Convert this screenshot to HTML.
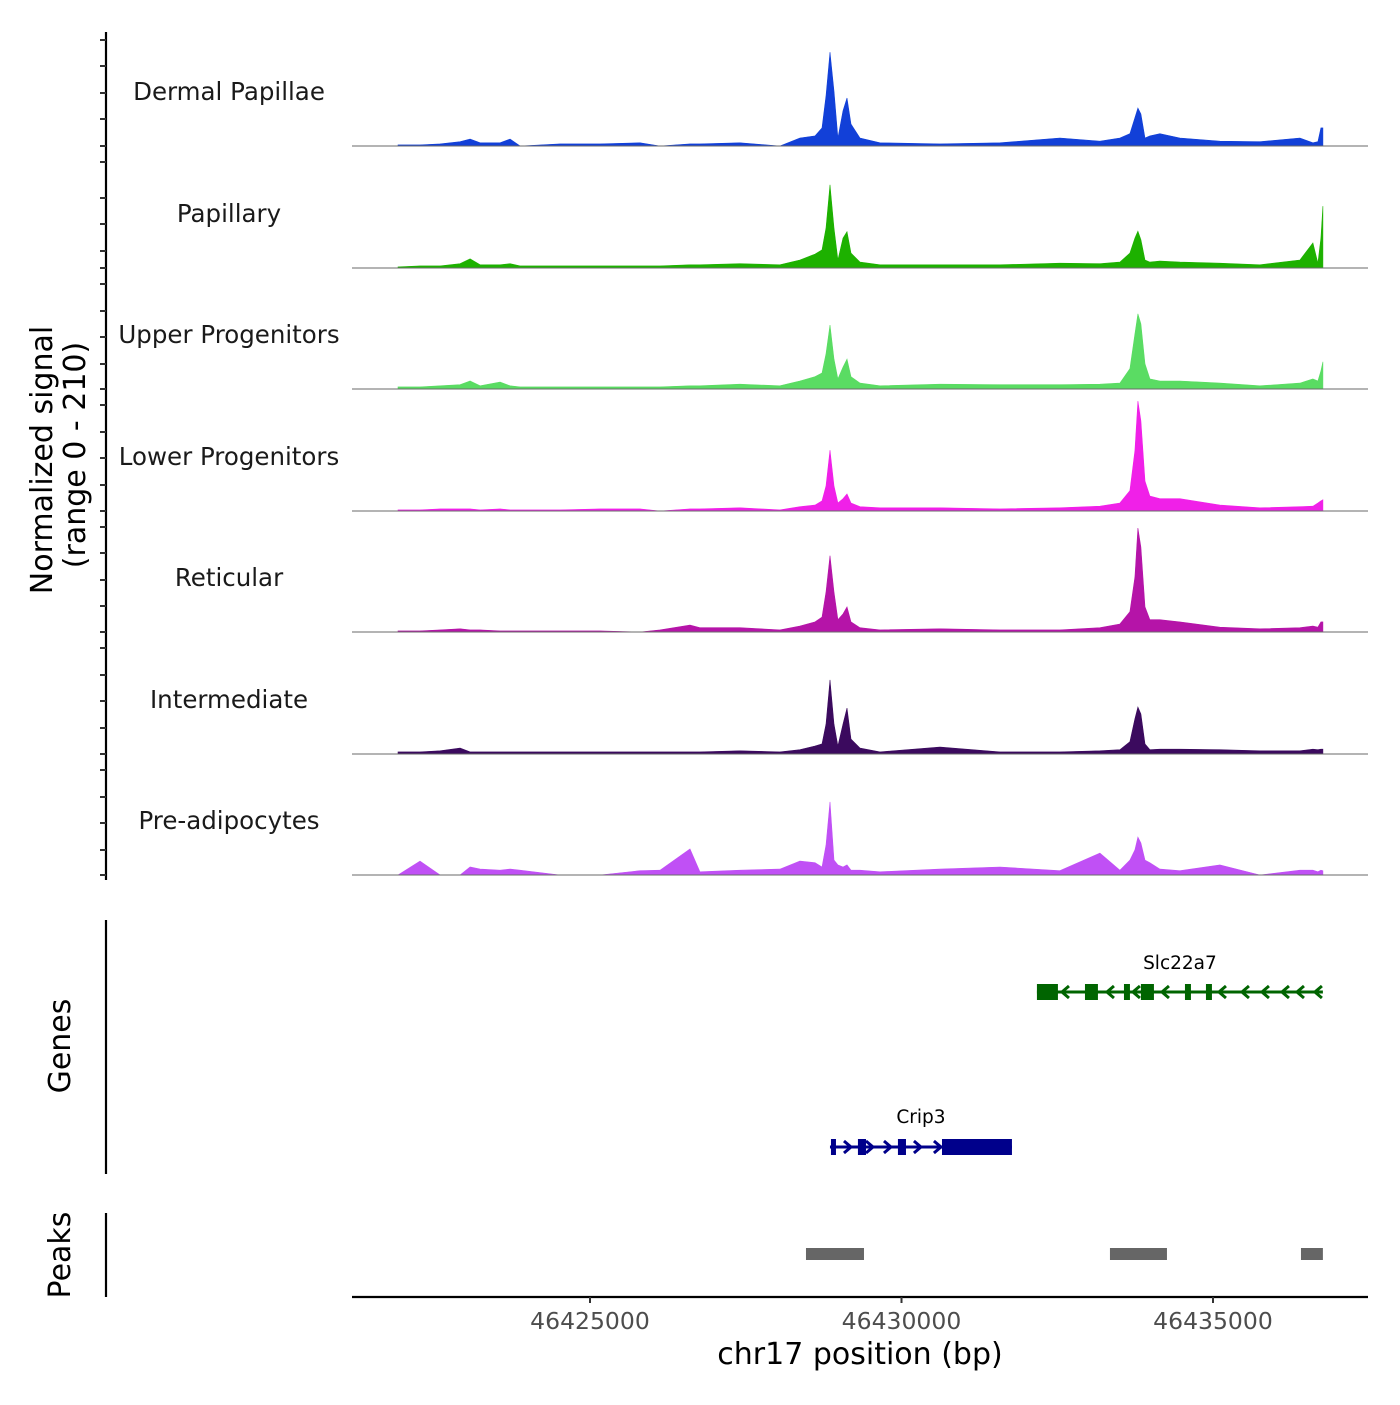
<!DOCTYPE html>
<html><head><meta charset="utf-8">
<style>
html,body{margin:0;padding:0;background:#fff;}
svg text{font-family:"DejaVu Sans","Liberation Sans",sans-serif;}
</style></head>
<body>
<svg id="chart" width="1400" height="1400" viewBox="0 0 1400 1400" xmlns="http://www.w3.org/2000/svg">
</svg>
<script>
// ---- data ----
const trackNames = ["Dermal Papillae","Papillary","Upper Progenitors","Lower Progenitors","Reticular","Intermediate","Pre-adipocytes"];
const trackColors = ["#1240d8","#1db100","#5adc63","#f020e8","#b514a8","#3b0a5e","#c050f5"];
const positions = [46421918,46422272,46422594,46422915,46423075,46423236,46423557,46423717,46423878,46424519,46425160,46425802,46426123,46426605,46426765,46427407,46428049,46428370,46428611,46428724,46428788,46428852,46428916,46428980,46429061,46429125,46429189,46429334,46429655,46430618,46431581,46432543,46433185,46433506,46433667,46433747,46433795,46433843,46433908,46433988,46434148,46434469,46435111,46435753,46436395,46436604,46436684,46436732,46436764];
const dermalPapillae = [2,2,4,8,13,6,6,13,0,4,4,6,0,4,4,6,0,15,19,34,94,176,103,15,66,90,41,15,6,4,6,15,9,15,23,53,71,60,15,19,23,15,9,8,15,6,8,34,34];
const papillary = [2,4,4,8,17,6,6,8,4,4,4,4,4,6,6,8,6,15,26,34,75,156,75,15,56,68,28,11,6,6,6,9,8,11,28,56,69,53,15,11,13,11,9,6,15,47,9,56,116];
const upperProgenitors = [4,4,6,8,15,6,13,6,4,4,4,4,4,6,6,9,6,15,23,30,66,120,56,19,41,56,23,11,6,9,8,8,9,11,38,103,141,122,47,19,15,15,11,6,11,19,15,34,51];
const lowerProgenitors = [2,2,4,4,4,2,4,2,2,2,4,4,0,4,4,6,2,8,11,19,47,114,47,15,23,32,15,8,6,6,4,6,9,15,38,113,206,169,56,28,23,23,11,6,8,9,15,19,21];
const reticular = [2,2,4,6,4,4,2,2,2,2,2,0,4,13,8,8,4,11,19,28,75,143,75,23,34,47,19,8,4,6,4,4,8,15,38,103,195,159,47,23,23,19,9,6,8,11,9,19,19];
const intermediate = [4,4,6,11,4,4,4,4,4,4,4,4,4,4,4,6,4,8,15,19,56,139,56,15,56,86,28,11,4,13,4,4,6,8,23,66,88,75,19,8,9,9,8,6,6,9,8,9,9];
const preAdipocytes = [0,26,0,0,15,11,9,11,9,0,0,8,9,49,6,9,11,26,23,15,56,137,28,19,15,19,9,9,6,11,15,8,41,9,28,47,71,60,28,23,11,8,19,0,9,9,6,9,8];
const trackValues = [dermalPapillae,papillary,upperProgenitors,lowerProgenitors,reticular,intermediate,preAdipocytes];
const xTicks = [46425000,46430000,46435000];
const slcExons = [[46432174,46432511],[46432945,46433153],[46433571,46433667],[46433843,46434052],[46434550,46434646],[46434887,46434983]];
const slcSpan = [46432174,46436764];
const slcArrows = [46432624,46433346,46433763,46434229,46435144,46435513,46435834,46436155,46436396,46436684];
const cripExons = [[46428868,46428948],[46429301,46429430],[46429943,46430072],[46430650,46431773]];
const cripSpan = [46428852,46431773];
const cripArrows = [46429141,46429494,46429783,46430264,46430585];
const peakRegions = [[46428467,46429398],[46433346,46434261],[46436412,46436764]];

// ---- scales ----
const X0=352, X1=1368, BP0=46421180, BP1=46437488;
function xs(bp){return X0+(bp-BP0)/(BP1-BP0)*(X1-X0);}
const baselines=[146,268,389,511,632,754,875];
const YMAX=210, TRACK_H=112;
function ys(v,b){return b-v/YMAX*TRACK_H;}

const svg=document.getElementById('chart');
const NS="http://www.w3.org/2000/svg";
function mk(tag,attrs,parent){const e=document.createElementNS(NS,tag);for(const k in attrs)e.setAttribute(k,attrs[k]);(parent||svg).appendChild(e);return e;}

// tracks
trackValues.forEach((vals,i)=>{
  const b=baselines[i];
  const g=mk('g',{});
  
  
  let d='M'+xs(positions[0]).toFixed(1)+','+b;
  positions.forEach((p,j)=>{d+=' L'+xs(p).toFixed(1)+','+ys(vals[j],b).toFixed(1);});
  d+=' L'+xs(positions[positions.length-1]).toFixed(1)+','+b+' Z';
  const a=mk('path',{d:d,fill:trackColors[i],stroke:trackColors[i],'stroke-width':0.6},g);
  
  
  const ln=mk('line',{x1:X0,x2:X1,y1:b,y2:b,stroke:'#6a6a6a','stroke-width':1},g);
  
  
  const t=mk('text',{x:229,y:b-46,'font-size':24.5,'text-anchor':'middle',fill:'#1a1a1a'},g);
  t.textContent=trackNames[i];
  
  
});

// y axis
const ya=mk('line',{x1:106,x2:106,y1:32,y2:880,stroke:'#000','stroke-width':2.2});


const tickYs=[40,66,93,119,146,162,198,224,251,268,284,311,337,364,389,405,432,458,485,511,527,553,580,606,632,648,675,701,728,754,770,797,823,850,875];
tickYs.forEach(y=>{const t=mk('line',{x1:100,x2:106,y1:y,y2:y,stroke:'#333','stroke-width':2});
  
  });
const yt=mk('text',{x:52,y:460,'font-size':30,'text-anchor':'middle',transform:'rotate(-90 52 460)',fill:'#000'});
yt.textContent='Normalized signal';


const yt2=mk('text',{x:85,y:455,'font-size':30,'text-anchor':'middle',transform:'rotate(-90 85 455)',fill:'#000'});
yt2.textContent='(range 0 - 210)';



// genes panel
const ga=mk('line',{x1:106,x2:106,y1:920,y2:1174,stroke:'#000','stroke-width':2.2});


const gt=mk('text',{x:70,y:1046,'font-size':30,'text-anchor':'middle',transform:'rotate(-90 70 1046)'});
gt.textContent='Genes';



function drawGene(name,span,exons,arrows,y,color,dir,labelY){
  const g=mk('g',{});
  
  
  mk('line',{x1:xs(span[0]),x2:xs(span[1]),y1:y,y2:y,stroke:color,'stroke-width':3},g);
  exons.forEach(e=>{const r=mk('rect',{x:xs(e[0]),y:y-8,width:Math.max(5,xs(e[1])-xs(e[0])),height:16,fill:color},g);
    
    });
  arrows.forEach(p=>{const x=xs(p);const d=dir<0?`M${x+4},${y-6} L${x-3},${y} L${x+4},${y+6}`:`M${x-4},${y-6} L${x+3},${y} L${x-4},${y+6}`;
    const a=mk('path',{d:d,fill:'none',stroke:color,'stroke-width':3},g);
    
    });
  const t=mk('text',{x:(xs(span[0])+xs(span[1]))/2,y:labelY,'font-size':18.5,'text-anchor':'middle',fill:'#000'},g);
  t.textContent=name;
  
  
}
drawGene('Slc22a7',slcSpan,slcExons,slcArrows,992,'#006400',-1,969);
drawGene('Crip3',cripSpan,cripExons,cripArrows,1147,'#00008b',1,1123);

// peaks panel
const pa=mk('line',{x1:106,x2:106,y1:1213,y2:1297,stroke:'#000','stroke-width':2.2});


const pt=mk('text',{x:70,y:1255,'font-size':30,'text-anchor':'middle',transform:'rotate(-90 70 1255)'});
pt.textContent='Peaks';


peakRegions.forEach(p=>{const r=mk('rect',{x:xs(p[0]),y:1248,width:xs(p[1])-xs(p[0]),height:12,fill:'#666666'});
  
  });

// x axis
const xa=mk('line',{x1:X0,x2:X1,y1:1297,y2:1297,stroke:'#000','stroke-width':2.2});


xTicks.forEach(v=>{const x=xs(v);
  const t=mk('line',{x1:x,x2:x,y1:1297,y2:1303,stroke:'#333','stroke-width':2});
  
  
  const l=mk('text',{x:x,y:1329,'font-size':23.5,'text-anchor':'middle',fill:'#4d4d4d'});
  l.textContent=String(v);
  
  });
const xt=mk('text',{x:860,y:1364,'font-size':30,'text-anchor':'middle',fill:'#000'});
xt.textContent='chr17 position (bp)';


</script>
</body></html>
